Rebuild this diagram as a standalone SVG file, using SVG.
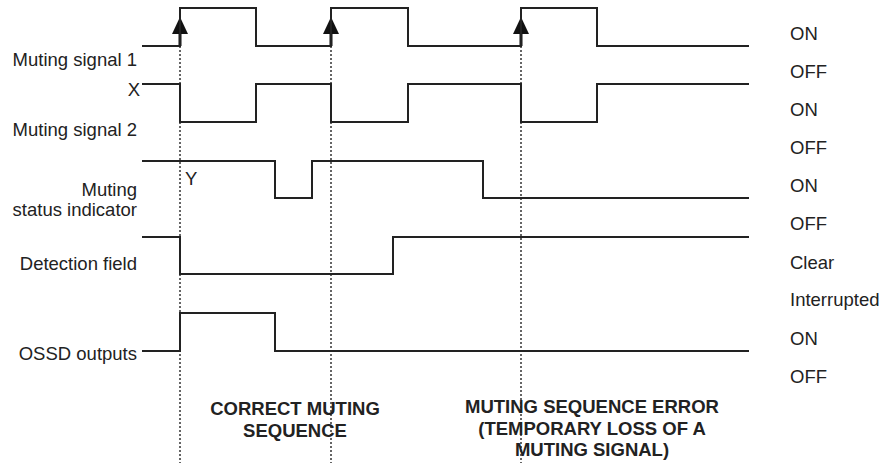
<svg xmlns="http://www.w3.org/2000/svg" width="895" height="463" viewBox="0 0 895 463">
<style>
.sig{fill:none;stroke:#222;stroke-width:2;stroke-linejoin:miter}
.dot{fill:none;stroke:#333;stroke-width:1.5;stroke-dasharray:2,2}
.arr{stroke:#111;stroke-width:3}
text{font-family:"Liberation Sans",Arial,sans-serif;font-size:18.5px;fill:#222}
.r{text-anchor:end}
.b{font-weight:bold;text-anchor:middle}
</style>
<rect width="895" height="463" fill="#fff"/>
<g id="connectors">
<line class="dot" x1="180" y1="46" x2="180" y2="463"/>
<line class="dot" x1="331" y1="46" x2="331" y2="463"/>
<line class="dot" x1="521" y1="46" x2="521" y2="463"/>
<line class="arr" x1="180" y1="46" x2="180" y2="34"/>
<line class="arr" x1="331" y1="46" x2="331" y2="34"/>
<line class="arr" x1="521" y1="46" x2="521" y2="34"/>
<path d="M172,34 L188,34 L180,17 Z" fill="#111"/>
<path d="M323,34 L339,34 L331,17 Z" fill="#111"/>
<path d="M513,34 L529,34 L521,17 Z" fill="#111"/>
</g>
<g id="muting-signal-1">
<path class="sig" d="M142,46 H180 V8 H256 V46 H331 V8 H408 V46 H521 V8 H597 V46 H749"/>
<text class="r" x="137" y="66">Muting signal 1</text>
<text x="790" y="40">ON</text>
<text x="790" y="78">OFF</text>
</g>
<g id="muting-signal-2">
<path class="sig" d="M142,84 H180 V122 H256 V84 H331 V122 H408 V84 H521 V122 H597 V84 H749"/>
<text class="r" x="140" y="96">X</text>
<text class="r" x="137" y="136">Muting signal 2</text>
<text x="790" y="116">ON</text>
<text x="790" y="154">OFF</text>
</g>
<g id="muting-status-indicator">
<path class="sig" d="M142,161 H275 V198 H312 V161 H483 V198 H749"/>
<text x="185" y="185">Y</text>
<text class="r" x="137" y="196">Muting</text>
<text class="r" x="137" y="216">status indicator</text>
<text x="790" y="192">ON</text>
<text x="790" y="230">OFF</text>
</g>
<g id="detection-field">
<path class="sig" d="M142,237 H180 V274 H393 V237 H749"/>
<text class="r" x="137" y="270">Detection field</text>
<text x="790" y="269">Clear</text>
<text x="790" y="306">Interrupted</text>
</g>
<g id="ossd-outputs">
<path class="sig" d="M142,351 H180 V313 H275 V351 H749"/>
<text class="r" x="137" y="360">OSSD outputs</text>
<text x="790" y="345">ON</text>
<text x="790" y="383">OFF</text>
</g>
<g id="correct-sequence">
<text class="b" x="295" y="415">CORRECT MUTING</text>
<text class="b" x="295" y="437">SEQUENCE</text>
</g>
<g id="sequence-error">
<text class="b" x="592" y="413">MUTING SEQUENCE ERROR</text>
<text class="b" x="592" y="435">(TEMPORARY LOSS OF A</text>
<text class="b" x="592" y="456">MUTING SIGNAL)</text>
</g>
</svg>
